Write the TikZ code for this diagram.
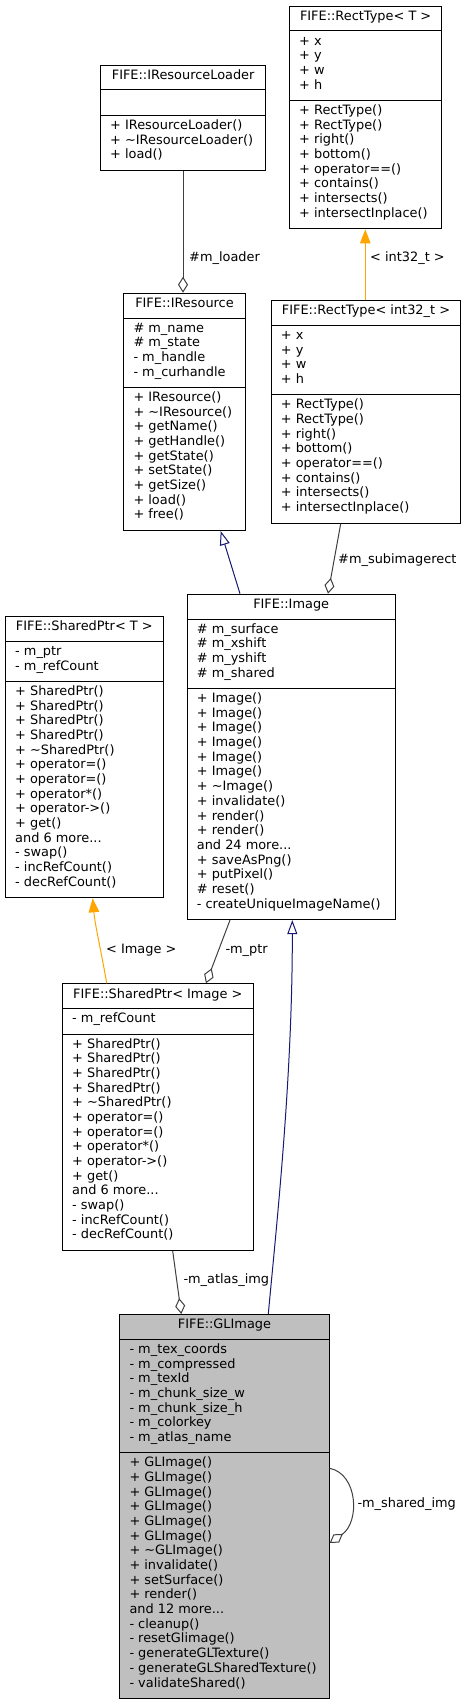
\documentclass[tikz,border=0pt]{standalone}
\usepackage{fontspec}
\setmainfont{DejaVu Sans}
\usetikzlibrary{arrows.meta}
\definecolor{edgegray}{HTML}{404040}
\definecolor{inhblue}{HTML}{191970}
\definecolor{tmplorange}{HTML}{FFA500}
\definecolor{focusgray}{HTML}{BFBFBF}
\newcommand\umlfont{\fontsize{12.9}{14.67}\selectfont}
\newcommand\umlLines[4]{%
  \foreach \mtxt [count=\i] in {#4}{
    \node[membertext] (#1-\i) at (#2, {#3+(\i-1)*14.67}) {\mtxt};
  }}
\newcommand\andmore[1]{and #1 more.{}.{}.}
\tikzset{
  umlbox/.style={draw=black, line width=1pt, fill=white, inner sep=0pt, anchor=north west},
  membertext/.style={anchor=mid west, inner sep=0pt, font=\umlfont},
  titletext/.style={anchor=mid, inner sep=0pt, font=\umlfont},
  edgelabel/.style={anchor=mid west, inner sep=0pt, font=\umlfont},
  divider/.style={draw=black, line width=1pt},
  agg/.style={draw=edgegray, line width=1pt, -{Diamond[open,length=16pt,width=10pt]}},
  inh/.style={draw=inhblue, line width=1pt, -{Triangle[open,length=14pt,width=10pt]}},
  tmpl/.style={draw=tmplorange, line width=1pt, -{Triangle[length=14pt,width=10.5pt]}}
}
\begin{document}
\begin{tikzpicture}[x=1pt,y=-1pt]
\useasboundingbox (0,0) rectangle (465,1704);
\fill[white] (0,0) rectangle (465,1704);

% ---------- FIFE::RectType< T >
\node[umlbox, minimum width=152.3pt, minimum height=222.7pt] (rt) at (289,5.7) {};
\draw[divider] (rt.west |- 0,31.0) -- (rt.east |- 0,31.0);
\draw[divider] (rt.west |- 0,100.4) -- (rt.east |- 0,100.4);
\node[titletext] (rt-t) at ([yshift=-12pt]rt.north) {FIFE::RectType< T >};
\umlLines{rta}{299}{42.5}{+ x, + y, + w, + h}
\umlLines{rtm}{299}{111.9}{+ RectType(), + RectType(), + right(), + bottom(), + operator==(), + contains(), + intersects(), + intersectInplace()}

% ---------- FIFE::IResourceLoader
\node[umlbox, minimum width=165.3pt, minimum height=105.4pt] (irl) at (100,64.7) {};
\draw[divider] (irl.west |- 0,90.0) -- (irl.east |- 0,90.0);
\draw[divider] (irl.west |- 0,115.4) -- (irl.east |- 0,115.4);
\node[titletext] (irl-t) at ([yshift=-12pt]irl.north) {FIFE::IResourceLoader};
\umlLines{irlm}{110}{126.9}{+ IResourceLoader(), + \textasciitilde IResourceLoader(), + load()}

% ---------- FIFE::IResource
\node[umlbox, minimum width=121.4pt, minimum height=237.4pt] (ir) at (123.3,292.7) {};
\draw[divider] (ir.west |- 0,318.0) -- (ir.east |- 0,318.0);
\draw[divider] (ir.west |- 0,387.4) -- (ir.east |- 0,387.4);
\node[titletext] (ir-t) at ([yshift=-12pt]ir.north) {FIFE::IResource};
\umlLines{ira}{133.3}{329.5}{\# m\_name, \# m\_state, - m\_handle, - m\_curhandle}
\umlLines{irm}{133.3}{398.9}{+ IResource(), + \textasciitilde IResource(), + getName(), + getHandle(), + getState(), + setState(), + getSize(), + load(), + free()}

% ---------- FIFE::RectType< int32_t >
\node[umlbox, minimum width=189.6pt, minimum height=222.7pt] (rti) at (270.7,300) {};
\draw[divider] (rti.west |- 0,325.3) -- (rti.east |- 0,325.3);
\draw[divider] (rti.west |- 0,394.7) -- (rti.east |- 0,394.7);
\node[titletext] (rti-t) at ([yshift=-12pt]rti.north) {FIFE::RectType< int32\_t >};
\umlLines{rtia}{280.7}{336.8}{+ x, + y, + w, + h}
\umlLines{rtim}{280.7}{406.2}{+ RectType(), + RectType(), + right(), + bottom(), + operator==(), + contains(), + intersects(), + intersectInplace()}

% ---------- FIFE::SharedPtr< T >
\node[umlbox, minimum width=157.7pt, minimum height=281.3pt] (spt) at (5,616) {};
\draw[divider] (spt.west |- 0,641.3) -- (spt.east |- 0,641.3);
\draw[divider] (spt.west |- 0,681.3) -- (spt.east |- 0,681.3);
\node[titletext] (spt-t) at ([yshift=-12pt]spt.north) {FIFE::SharedPtr< T >};
\umlLines{spta}{15}{652.8}{- m\_ptr, - m\_refCount}
\umlLines{sptm}{15}{692.8}{+ SharedPtr(), + SharedPtr(), + SharedPtr(), + SharedPtr(), + \textasciitilde SharedPtr(), + operator=(), + operator=(), + operator*(), + operator->(), + get(), {\andmore{6}}, - swap(), - incRefCount(), - decRefCount()}

% ---------- FIFE::Image
\node[umlbox, minimum width=208pt, minimum height=325.4pt] (img) at (186.7,593.7) {};
\draw[divider] (img.west |- 0,619.0) -- (img.east |- 0,619.0);
\draw[divider] (img.west |- 0,688.4) -- (img.east |- 0,688.4);
\node[titletext] (img-t) at ([yshift=-12pt]img.north) {FIFE::Image};
\umlLines{imga}{196.7}{630.5}{\# m\_surface, \# m\_xshift, \# m\_yshift, \# m\_shared}
\umlLines{imgm}{196.7}{699.9}{+ Image(), + Image(), + Image(), + Image(), + Image(), + Image(), + \textasciitilde Image(), + invalidate(), + render(), + render(), {\andmore{24}}, + saveAsPng(), + putPixel(), \# reset(), - createUniqueImageName()}

% ---------- FIFE::SharedPtr< Image >
\node[umlbox, minimum width=190.7pt, minimum height=266.7pt] (spi) at (62,983.3) {};
\draw[divider] (spi.west |- 0,1008.7) -- (spi.east |- 0,1008.7);
\draw[divider] (spi.west |- 0,1034.0) -- (spi.east |- 0,1034.0);
\node[titletext] (spi-t) at ([yshift=-12pt]spi.north) {FIFE::SharedPtr< Image >};
\umlLines{spia}{72}{1020.2}{- m\_refCount}
\umlLines{spim}{72}{1045.5}{+ SharedPtr(), + SharedPtr(), + SharedPtr(), + SharedPtr(), + \textasciitilde SharedPtr(), + operator=(), + operator=(), + operator*(), + operator->(), + get(), {\andmore{6}}, - swap(), - incRefCount(), - decRefCount()}

% ---------- FIFE::GLImage
\node[umlbox, fill=focusgray, minimum width=209.4pt, minimum height=384.1pt] (gl) at (119.3,1314) {};
\draw[divider] (gl.west |- 0,1339.3) -- (gl.east |- 0,1339.3);
\draw[divider] (gl.west |- 0,1452.7) -- (gl.east |- 0,1452.7);
\node[titletext] (gl-t) at ([yshift=-12pt]gl.north) {FIFE::GLImage};
\umlLines{gla}{129.3}{1350.8}{- m\_tex\_coords, - m\_compressed, - m\_texId, - m\_chunk\_size\_w, - m\_chunk\_size\_h, - m\_colorkey, - m\_atlas\_name}
\umlLines{glm}{129.3}{1464.2}{+ GLImage(), + GLImage(), + GLImage(), + GLImage(), + GLImage(), + GLImage(), + \textasciitilde GLImage(), + invalidate(), + setSurface(), + render(), {\andmore{12}}, - cleanup(), - resetGlimage(), - generateGLTexture(), - generateGLSharedTexture(), - validateShared()}

% ---------- connectors
\draw[agg] (183,0 |- irl.south) -- (183,0 |- ir.north);
\node[edgelabel] (l-loader) at (189,259) {\#m\_loader};

\draw[tmpl] (365.3,0 |- rti.north) -- (365.3,0 |- rt.south);
\node[edgelabel] (l-int) at (370,259) {< int32\_t >};

\draw[inh] (240,0 |- img.north) -- (220.7,0 |- ir.south);

\draw[agg] (340.7,0 |- rti.south) -- (328,0 |- img.north);
\node[edgelabel] (l-sub) at (338,560.7) {\#m\_subimagerect};

\draw[tmpl] (106.7,0 |- spi.north) .. controls (101,950) and (95,925) .. (92.7,0 |- spt.south);
\node[edgelabel] (l-img) at (106,950.7) {< Image >};

\draw[agg] (230,0 |- img.south) -- (206,0 |- spi.north);
\node[edgelabel] (l-ptr) at (225.3,950.7) {-m\_ptr};

\draw[inh] (268.3,0 |- gl.north) .. controls (276,1230) and (292.5,1080) .. (292.3,0 |- img.south);

\draw[agg] (172.7,0 |- spi.south) -- (181.3,0 |- gl.north);
\node[edgelabel] (l-atlas) at (183.3,1280.7) {-m\_atlas\_img};

\draw[agg] (gl.east |- 0,1468.3) .. controls (358,1474) and (360,1522) .. (gl.east |- 0,1543);
\node[edgelabel] (l-shared) at (357.3,1505) {-m\_shared\_img};
\end{tikzpicture}
\end{document}
